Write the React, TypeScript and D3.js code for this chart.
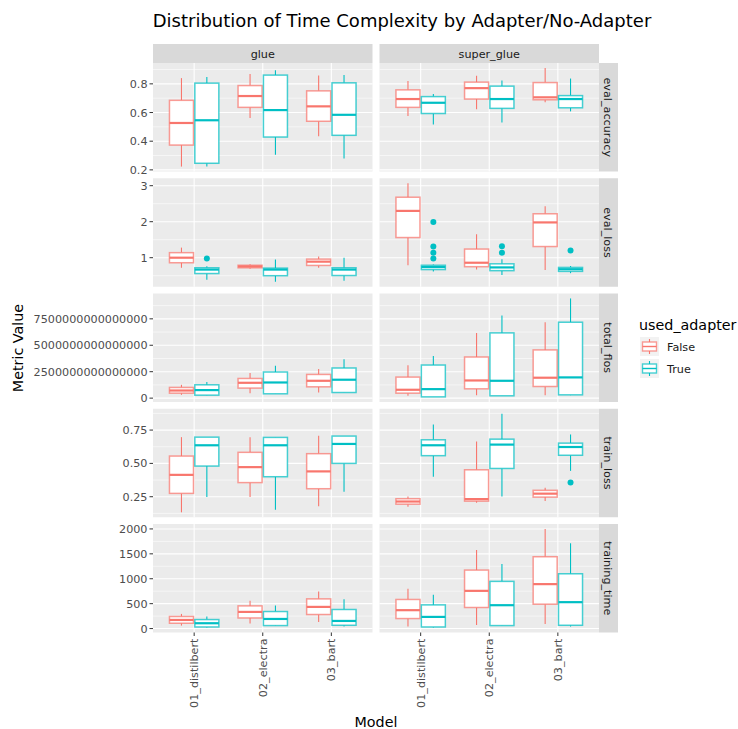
import React from "react";
import * as d3 from "d3";

const datasets = ["glue", "super_glue"];
const models = ["01_distilbert", "02_electra", "03_bart"];
const adapters = ["False", "True"];
const metrics = ["eval_accuracy", "eval_loss", "total_flos", "train_loss", "training_time"];
const adapterColors = ["#F8766D", "#00BFC4"];

// each row: [lower whisker, Q1, median, Q3, upper whisker]
// order: glue (distilbert F, T, electra F, T, bart F, T), super_glue (same)
const evalAccuracyStats = [
  [0.223, 0.373, 0.527, 0.685, 0.84],
  [0.223, 0.246, 0.546, 0.805, 0.847],
  [0.561, 0.636, 0.715, 0.788, 0.868],
  [0.305, 0.429, 0.617, 0.861, 0.894],
  [0.434, 0.539, 0.643, 0.751, 0.858],
  [0.279, 0.441, 0.584, 0.807, 0.861],
  [0.575, 0.636, 0.694, 0.758, 0.819],
  [0.516, 0.593, 0.668, 0.711, 0.73],
  [0.622, 0.694, 0.77, 0.812, 0.856],
  [0.53, 0.629, 0.694, 0.784, 0.823],
  [0.671, 0.689, 0.706, 0.809, 0.911],
  [0.608, 0.633, 0.694, 0.718, 0.837],
];
const evalAccuracyOutliers: number[][] = [[], [], [], [], [], [], [], [], [], [], [], []];

const evalLossStats = [
  [0.72, 0.86, 1.0, 1.14, 1.28],
  [0.385, 0.56, 0.67, 0.72, 0.765],
  [0.69, 0.72, 0.757, 0.79, 0.82],
  [0.33, 0.5, 0.67, 0.71, 0.95],
  [0.72, 0.785, 0.89, 0.96, 1.03],
  [0.36, 0.505, 0.67, 0.72, 1.0],
  [0.79, 1.56, 2.3, 2.68, 3.07],
  [0.62, 0.67, 0.74, 0.79, 0.81],
  [0.67, 0.75, 0.86, 1.24, 1.65],
  [0.52, 0.64, 0.73, 0.83, 0.96],
  [0.66, 1.31, 1.98, 2.22, 2.43],
  [0.57, 0.62, 0.68, 0.73, 0.77],
];
const evalLossOutliers: number[][] = [
  [], [0.98], [], [], [], [],
  [], [1.99, 1.31, 1.14, 0.98], [], [1.32, 1.14], [], [1.2],
];

const totalFlosStats = [
  [0.31e15, 0.47e15, 0.72e15, 1.01e15, 1.26e15],
  [0.25e15, 0.28e15, 0.76e15, 1.26e15, 1.52e15],
  [0.47e15, 0.95e15, 1.45e15, 1.86e15, 2.37e15],
  [0.38e15, 0.41e15, 1.48e15, 2.47e15, 3.07e15],
  [0.53e15, 1.07e15, 1.64e15, 2.24e15, 2.75e15],
  [0.5e15, 0.53e15, 1.74e15, 2.85e15, 3.67e15],
  [0.22e15, 0.47e15, 0.79e15, 1.99e15, 3.1e15],
  [0.1e15, 0.12e15, 0.85e15, 3.13e15, 3.99e15],
  [0.28e15, 0.88e15, 1.67e15, 3.89e15, 6.17e15],
  [0.2e15, 0.22e15, 1.64e15, 6.17e15, 7.82e15],
  [0.28e15, 1.1e15, 1.93e15, 4.56e15, 7.18e15],
  [0.28e15, 0.31e15, 1.96e15, 7.18e15, 9.43e15],
];
const totalFlosOutliers: number[][] = [[], [], [], [], [], [], [], [], [], [], [], []];

const trainLossStats = [
  [0.133, 0.275, 0.414, 0.555, 0.697],
  [0.247, 0.48, 0.636, 0.697, 0.697],
  [0.247, 0.356, 0.472, 0.583, 0.697],
  [0.152, 0.4, 0.636, 0.695, 0.697],
  [0.179, 0.31, 0.44, 0.573, 0.707],
  [0.288, 0.5, 0.646, 0.705, 0.705],
  [0.174, 0.194, 0.214, 0.235, 0.252],
  [0.4, 0.558, 0.636, 0.677, 0.792],
  [0.205, 0.217, 0.232, 0.452, 0.664],
  [0.252, 0.462, 0.641, 0.682, 0.873],
  [0.217, 0.247, 0.273, 0.298, 0.318],
  [0.444, 0.561, 0.623, 0.652, 0.717],
];
const trainLossOutliers: number[][] = [
  [], [], [], [], [], [],
  [], [], [], [], [], [0.356],
];

const trainingTimeStats = [
  [60, 107, 173, 242, 294],
  [20, 32, 107, 181, 242],
  [101, 213, 334, 455, 556],
  [50, 60, 193, 342, 463],
  [133, 282, 435, 596, 745],
  [40, 66, 153, 383, 590],
  [40, 201, 369, 584, 798],
  [20, 32, 234, 475, 677],
  [73, 423, 757, 1174, 1577],
  [55, 60, 469, 947, 1295],
  [93, 489, 892, 1442, 2000],
  [40, 66, 530, 1100, 1712],
];
const trainingTimeOutliers: number[][] = [[], [], [], [], [], [], [], [], [], [], [], []];

const evalAccuracyTicks = [0.2, 0.4, 0.6, 0.8];
const evalLossTicks = [1, 2, 3];
const totalFlosTicks = [0, 2.5e15, 5e15, 7.5e15];
const trainLossTicks = [0.25, 0.5, 0.75];
const trainingTimeTicks = [0, 500, 1000, 1500, 2000];

const evalAccuracyTickLabels = ["0.2", "0.4", "0.6", "0.8"];
const evalLossTickLabels = ["1", "2", "3"];
const totalFlosTickLabels = ["0", "2500000000000000", "5000000000000000", "7500000000000000"];
const trainLossTickLabels = ["0.25", "0.50", "0.75"];
const trainingTimeTickLabels = ["0", "500", "1000", "1500", "2000"];

const metricStats = [evalAccuracyStats, evalLossStats, totalFlosStats, trainLossStats, trainingTimeStats];
const metricOutliers = [evalAccuracyOutliers, evalLossOutliers, totalFlosOutliers, trainLossOutliers, trainingTimeOutliers];
const metricTicks = [evalAccuracyTicks, evalLossTicks, totalFlosTicks, trainLossTicks, trainingTimeTicks];
const metricTickLabels = [evalAccuracyTickLabels, evalLossTickLabels, totalFlosTickLabels, trainLossTickLabels, trainingTimeTickLabels];

const FONT = "DejaVu Sans, sans-serif";
const W = 738;
const H = 729;
const panelLefts = [153, 379.5];
const panelW = 219.5;
const stripTop = 44;
const stripH = 19;
const rowTop0 = 63;
const rowStep = 115.25;
const rowH = 108.5;
const rightStripX = 599;
const rightStripW = 19;

export default function App() {
  const unit = panelW / 3.2;
  const elems: React.ReactNode[] = [];

  metrics.forEach((metric, mi) => {
    const top = rowTop0 + mi * rowStep;
    const stats = metricStats[mi];
    const outs = metricOutliers[mi];
    const all: number[] = [];
    stats.forEach((s, i) => { all.push(...s); all.push(...outs[i]); });
    const [mn, mx] = d3.extent(all) as [number, number];
    const pad = (mx - mn) * 0.05;
    const y = d3.scaleLinear().domain([mn - pad, mx + pad]).range([top + rowH, top]);
    const ticks = metricTicks[mi];
    const step = ticks[1] - ticks[0];
    const minors: number[] = [];
    for (let v = ticks[0] - step / 2; v <= y.domain()[1]; v += step) {
      if (v >= y.domain()[0]) minors.push(v);
    }

    datasets.forEach((ds, di) => {
      const left = panelLefts[di];
      const x = d3.scalePoint<string>().domain(models).range([left + 0.6 * unit, left + 2.6 * unit]);
      const g: React.ReactNode[] = [];
      g.push(<rect key="bg" x={left} y={top} width={panelW} height={rowH} fill="#ebebeb" />);
      minors.forEach((v, i) => g.push(
        <line key={"mn" + i} x1={left} x2={left + panelW} y1={y(v)} y2={y(v)} stroke="#fff" strokeWidth={0.55} />
      ));
      ticks.forEach((v, i) => g.push(
        <line key={"mj" + i} x1={left} x2={left + panelW} y1={y(v)} y2={y(v)} stroke="#fff" strokeWidth={1.1} />
      ));
      models.forEach((m, i) => g.push(
        <line key={"vx" + i} x1={x(m)} x2={x(m)} y1={top} y2={top + rowH} stroke="#fff" strokeWidth={1.1} />
      ));
      models.forEach((m, modi) => {
        adapters.forEach((a, ai) => {
          const idx = di * 6 + modi * 2 + ai;
          const s = stats[idx];
          const cx = (x(m) as number) + (ai === 0 ? -0.185 : 0.185) * unit;
          const hw = 0.175 * unit;
          const c = adapterColors[ai];
          g.push(
            <g key={"b" + modi + a}>
              <line x1={cx} x2={cx} y1={y(s[4])} y2={y(s[3])} stroke={c} strokeWidth={1.1} />
              <line x1={cx} x2={cx} y1={y(s[1])} y2={y(s[0])} stroke={c} strokeWidth={1.1} />
              <rect x={cx - hw} y={y(s[3])} width={2 * hw} height={Math.max(0.5, y(s[1]) - y(s[3]))}
                fill="#fff" stroke={c} strokeOpacity={0.72} strokeWidth={1.5} />
              <line x1={cx - hw} x2={cx + hw} y1={y(s[2])} y2={y(s[2])} stroke={c} strokeWidth={2.2} />
              {outs[idx].map((o, oi) => (
                <circle key={oi} cx={cx} cy={y(o)} r={3} fill={c} />
              ))}
            </g>
          );
        });
      });
      if (di === 0) {
        ticks.forEach((v, i) => g.push(
          <g key={"yt" + i}>
            <line x1={left - 3.5} x2={left} y1={y(v)} y2={y(v)} stroke="#333" strokeWidth={1} />
            <text x={left - 5.5} y={y(v)} dy="0.36em" textAnchor="end" fontSize={11.2} fill="#4d4d4d" fontFamily={FONT}>
              {metricTickLabels[mi][i]}
            </text>
          </g>
        ));
      }
      if (mi === metrics.length - 1) {
        models.forEach((m, i) => g.push(
          <g key={"xt" + i}>
            <line x1={x(m)} x2={x(m)} y1={top + rowH} y2={top + rowH + 3.5} stroke="#333" strokeWidth={1} />
            <text transform={`translate(${x(m)},${top + rowH + 6}) rotate(-90)`} dy="0.36em" textAnchor="end"
              fontSize={11.2} fill="#4d4d4d" fontFamily={FONT}>{m}</text>
          </g>
        ));
      }
      elems.push(<g key={metric + ds}>{g}</g>);
    });

    elems.push(
      <g key={"rs" + metric}>
        <rect x={rightStripX} y={top} width={rightStripW} height={rowH} fill="#d9d9d9" />
        <text transform={`translate(${rightStripX + rightStripW / 2},${top + rowH / 2}) rotate(90)`}
          textAnchor="middle" dy="0.36em" fontSize={11.2} fill="#1a1a1a" fontFamily={FONT}>{metric}</text>
      </g>
    );
  });

  datasets.forEach((ds, di) => {
    elems.push(
      <g key={"ts" + ds}>
        <rect x={panelLefts[di]} y={stripTop} width={panelW} height={stripH} fill="#d9d9d9" />
        <text x={panelLefts[di] + panelW / 2} y={stripTop + stripH / 2} dy="0.36em" textAnchor="middle"
          fontSize={11.2} fill="#1a1a1a" fontFamily={FONT}>{ds}</text>
      </g>
    );
  });

  const legendX = 640;
  const keyYs = [337, 359];

  return (
    <svg width={W} height={H} style={{ position: "absolute", left: 0, top: 0, background: "#fff" }}>
      <rect x={0} y={0} width={W} height={H} fill="#fff" />
      <text x={402} y={26.5} textAnchor="middle" fontSize={18} fill="#000" fontFamily={FONT}>
        Distribution of Time Complexity by Adapter/No-Adapter
      </text>
      {elems}
      <text transform="translate(23,348) rotate(-90)" textAnchor="middle" fontSize={14.3} fill="#000" fontFamily={FONT}>
        Metric Value
      </text>
      <text x={376} y={727} textAnchor="middle" fontSize={14.3} fill="#000" fontFamily={FONT}>Model</text>
      <text x={legendX - 1} y={330} fontSize={14.3} fill="#000" fontFamily={FONT}>used_adapter</text>
      {adapters.map((a, ai) => {
        const ky = keyYs[ai];
        const c = adapterColors[ai];
        const cx = legendX + 9.5;
        return (
          <g key={"lg" + a}>
            <rect x={legendX} y={ky} width={19} height={19} fill="#f2f2f2" />
            <line x1={cx} x2={cx} y1={ky + 2} y2={ky + 17} stroke={c} strokeWidth={1.1} />
            <rect x={legendX + 2.5} y={ky + 5} width={14} height={9} fill="#fff" stroke={c} strokeOpacity={0.72} strokeWidth={1.4} />
            <line x1={legendX + 2.5} x2={legendX + 16.5} y1={ky + 9.5} y2={ky + 9.5} stroke={c} strokeWidth={1.4} />
            <text x={legendX + 27} y={ky + 9.5} dy="0.36em" fontSize={11.2} fill="#1a1a1a" fontFamily={FONT}>{a}</text>
          </g>
        );
      })}
    </svg>
  );
}
